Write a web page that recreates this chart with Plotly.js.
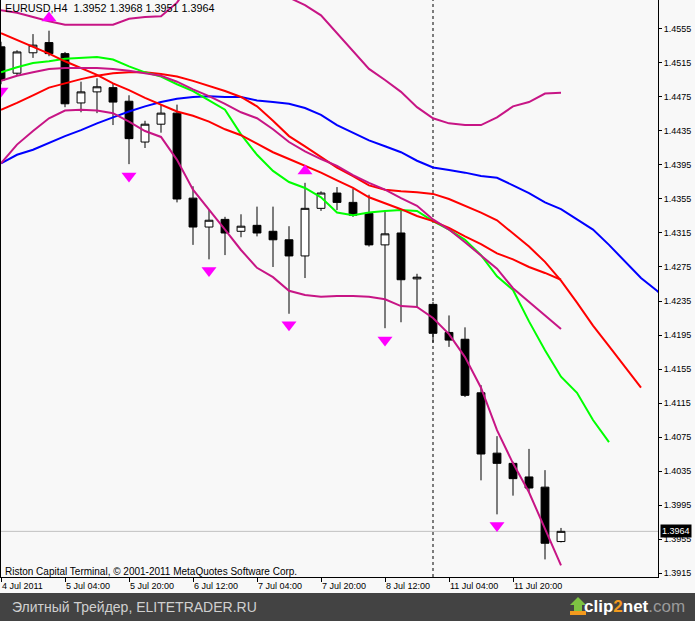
<!DOCTYPE html>
<html>
<head>
<meta charset="utf-8">
<script src="https://cdn.plot.ly/plotly-3.0.1.min.js"></script>
<style>
  html, body { margin: 0; padding: 0; background: #F8F8F8; }
  #chart { width: 695px; height: 621px; }
</style>
</head>
<body>
<div id="chart"></div>
<script>
// ---- Data (EURUSD, H4) ----
const symbol = "EURUSD,H4";
const times = [
  "2011.07.04 12:00","2011.07.04 16:00","2011.07.04 20:00","2011.07.05 00:00","2011.07.05 04:00","2011.07.05 08:00",
  "2011.07.05 12:00","2011.07.05 16:00","2011.07.05 20:00","2011.07.06 00:00","2011.07.06 04:00","2011.07.06 08:00",
  "2011.07.06 12:00","2011.07.06 16:00","2011.07.06 20:00","2011.07.07 00:00","2011.07.07 04:00","2011.07.07 08:00",
  "2011.07.07 12:00","2011.07.07 16:00","2011.07.07 20:00","2011.07.08 00:00","2011.07.08 04:00","2011.07.08 08:00",
  "2011.07.08 12:00","2011.07.08 16:00","2011.07.08 20:00","2011.07.11 00:00","2011.07.11 04:00","2011.07.11 08:00",
  "2011.07.11 12:00","2011.07.11 16:00","2011.07.11 20:00","2011.07.12 00:00","2011.07.12 04:00","2011.07.12 08:00"
];
const opens  = [1.4534,1.4503,1.4527,1.4539,1.4526,1.4468,1.4481,1.4486,1.4470,1.4422,1.4443,1.4456,1.4356,1.4322,1.4331,1.4317,1.4324,1.4317,1.4307,1.4288,1.4344,1.4362,1.4351,1.4338,1.4301,1.4315,1.4261,1.4231,1.4198,1.4190,1.4127,1.4056,1.4044,1.4028,1.4016,1.3952];
const highs  = [1.4540,1.4530,1.4549,1.4553,1.4528,1.4493,1.4497,1.4491,1.4477,1.4447,1.4466,1.4466,1.4370,1.4342,1.4334,1.4337,1.4346,1.4346,1.4323,1.4374,1.4364,1.4369,1.4367,1.4360,1.4342,1.4342,1.4267,1.4234,1.4218,1.4204,1.4136,1.4076,1.4046,1.4061,1.4036,1.3968];
const lows   = [1.4490,1.4500,1.4521,1.4523,1.4463,1.4457,1.4456,1.4442,1.4396,1.4415,1.4433,1.4351,1.4301,1.4284,1.4289,1.4310,1.4311,1.4275,1.4220,1.4262,1.4341,1.4342,1.4334,1.4299,1.4203,1.4210,1.4228,1.4186,1.4181,1.4122,1.4024,1.3984,1.4006,1.4010,1.3931,1.3951];
const closes = [1.4495,1.4528,1.4536,1.4526,1.4467,1.4481,1.4487,1.4469,1.4426,1.4443,1.4456,1.4355,1.4322,1.4330,1.4315,1.4323,1.4315,1.4307,1.4288,1.4344,1.4362,1.4351,1.4336,1.4301,1.4314,1.4260,1.4263,1.4197,1.4189,1.4124,1.4055,1.4044,1.4026,1.4015,1.3950,1.3964];

// Bollinger-style bands (magenta)
const bandUpper  = [1.4577,1.4574,1.4569,1.4564,1.4560,1.4560,1.4560,1.4560,1.4567,1.4569,1.4570,1.4586,1.4613,1.4634,1.4642,1.4639,1.4627,1.4608,1.4592,1.4583,1.4571,1.4550,1.4530,1.4508,1.4495,1.4481,1.4463,1.4450,1.4444,1.4442,1.4442,1.4451,1.4464,1.4469,1.4479,1.4480];
const bandMiddle = [1.4494,1.4500,1.4504,1.4508,1.4509,1.4509,1.4509,1.4508,1.4506,1.4503,1.4500,1.4493,1.4484,1.4476,1.4467,1.4457,1.4450,1.4437,1.4422,1.4411,1.4402,1.4394,1.4383,1.4374,1.4366,1.4356,1.4347,1.4331,1.4319,1.4304,1.4288,1.4273,1.4250,1.4234,1.4219,1.4202];
const bandLower  = [1.4397,1.4419,1.4435,1.4450,1.4459,1.4460,1.4459,1.4456,1.4446,1.4435,1.4428,1.4401,1.4366,1.4343,1.4319,1.4295,1.4274,1.4263,1.4247,1.4242,1.4240,1.4241,1.4241,1.4240,1.4237,1.4229,1.4228,1.4215,1.4196,1.4169,1.4133,1.4083,1.4044,1.4010,1.3966,1.3924];
// Red moving average
const maRed = [1.4550,1.4542,1.4534,1.4526,1.4517,1.4509,1.4501,1.4491,1.4483,1.4474,1.4466,1.4458,1.4453,1.4446,1.4437,1.4430,1.4420,1.4410,1.4402,1.4394,1.4386,1.4377,1.4368,1.4357,1.4350,1.4343,1.4335,1.4329,1.4321,1.4311,1.4302,1.4291,1.4284,1.4275,1.4268,1.4260];
// Alligator (shifted forward)
const jaw   = [1.4397,1.4407,1.4413,1.4421,1.4429,1.4436,1.4444,1.4451,1.4458,1.4464,1.4469,1.4473,1.4475,1.4476,1.4475,1.4475,1.4471,1.4469,1.4467,1.4462,1.4454,1.4442,1.4433,1.4424,1.4417,1.4410,1.4400,1.4392,1.4389,1.4386,1.4382,1.4380,1.4371,1.4362,1.4351,1.4343,1.4331,1.4319,1.4301,1.4281,1.4262,1.4247,1.4230,1.4215];
const teeth = [1.4460,1.4468,1.4477,1.4486,1.4491,1.4496,1.4500,1.4503,1.4504,1.4504,1.4502,1.4499,1.4494,1.4488,1.4482,1.4475,1.4464,1.4447,1.4429,1.4417,1.4404,1.4392,1.4382,1.4371,1.4366,1.4364,1.4363,1.4361,1.4355,1.4347,1.4339,1.4330,1.4315,1.4299,1.4281,1.4259,1.4233,1.4206,1.4182,1.4157,1.4133];
const lips  = [1.4504,1.4510,1.4515,1.4517,1.4520,1.4521,1.4522,1.4519,1.4511,1.4504,1.4499,1.4490,1.4482,1.4471,1.4460,1.4431,1.4407,1.4388,1.4375,1.4368,1.4357,1.4339,1.4336,1.4339,1.4341,1.4342,1.4341,1.4329,1.4319,1.4307,1.4289,1.4264,1.4248,1.4211,1.4177,1.4146,1.4127,1.4095,1.4069];
// Fractals
const fractalUpBars = [3, 19];
const fractalUpPrices = [1.4568, 1.4388];
const fractalDownBars = [0, 8, 13, 18, 24, 31];
const fractalDownPrices = [1.4482, 1.4382, 1.4271, 1.4207, 1.4189, 1.3971];
// Axis
const priceTicks = [1.3915,1.3955,1.3995,1.4035,1.4075,1.4115,1.4155,1.4195,1.4235,1.4275,1.4315,1.4355,1.4395,1.4435,1.4475,1.4515,1.4555];
const labelEvery = 4;
const copyright = "Riston Capital Terminal, © 2001-2011 MetaQuotes Software Corp.";
const bannerText = "Элитный Трейдер, ELITETRADER.RU";

// ---- Build ----
const months = {"07":"Jul"};
function fmtTime(t, first) {
  const [d, hm] = t.split(" ");
  const [y, m, day] = d.split(".");
  const dd = String(parseInt(day, 10));
  return first ? dd + " " + months[m] + " " + y : dd + " " + months[m] + " " + hm;
}
const idx = a => a.map((_, i) => i);
const tickVals = [], tickText = [];
times.forEach((t, i) => { if (i % labelEvery === 0) { tickVals.push(i); tickText.push(fmtTime(t, i === 0)); } });
const weekStart = times.findIndex((t, i) => i > 0 && parseInt(t.slice(8,10),10) - parseInt(times[i-1].slice(8,10),10) > 1);

const FONT = "Liberation Sans, Arial, sans-serif";
const magentaBand = "#C71585";
const lineW = 2;
const last = closes.length - 1;

const traces = [
  {
    type: "candlestick", x: idx(closes), open: opens, high: highs, low: lows, close: closes,
    increasing: { line: { color: "#000000", width: 1 }, fillcolor: "#FFFFFF" },
    decreasing: { line: { color: "#000000", width: 1 }, fillcolor: "#000000" },
    whiskerwidth: 0, hoverinfo: "skip"
  },
  { type: "scatter", mode: "lines", x: idx(jaw), y: jaw, line: { color: "#0000FF", width: lineW } },
  { type: "scatter", mode: "lines", x: idx(teeth), y: teeth, line: { color: "#FF0000", width: lineW } },
  { type: "scatter", mode: "lines", x: idx(lips), y: lips, line: { color: "#00FF00", width: lineW } },
  { type: "scatter", mode: "lines", x: idx(maRed), y: maRed, line: { color: "#FF0000", width: lineW } },
  { type: "scatter", mode: "lines", x: idx(bandUpper), y: bandUpper, line: { color: magentaBand, width: lineW } },
  { type: "scatter", mode: "lines", x: idx(bandMiddle), y: bandMiddle, line: { color: magentaBand, width: lineW } },
  { type: "scatter", mode: "lines", x: idx(bandLower), y: bandLower, line: { color: magentaBand, width: lineW } },
  { type: "scatter", mode: "markers", x: fractalUpBars, y: fractalUpPrices,
    marker: { symbol: "triangle-up", size: 13, color: "#FF00FF", line: { width: 0 } }, cliponaxis: true },
  { type: "scatter", mode: "markers", x: fractalDownBars, y: fractalDownPrices,
    marker: { symbol: "triangle-down", size: 13, color: "#FF00FF", line: { width: 0 } }, cliponaxis: true }
];

const W = 657; // plot width px
const H = 577; // plot height px
const px = v => (v - 1) / W;
const py = v => (H - v) / H;

const layout = {
  width: 695, height: 621,
  margin: { l: 1, r: 37, t: 0, b: 44, pad: 0 },
  paper_bgcolor: "#F8F8F8", plot_bgcolor: "#F8F8F8",
  showlegend: false, hovermode: false,
  font: { family: FONT, size: 9, color: "#000000" },
  xaxis: {
    range: [0, W / 16], showgrid: false, zeroline: false,
    showline: true, linecolor: "#000000", linewidth: 1,
    ticks: "outside", ticklen: 4, tickcolor: "#000000", tickwidth: 1,
    tickvals: tickVals, ticktext: tickText, ticklabelposition: "outside right",
    tickfont: { family: FONT, size: 9, color: "#000000" },
    rangeslider: { visible: false }, fixedrange: true
  },
  yaxis: {
    range: [1.39103, 1.45891], side: "right", showgrid: false, zeroline: false,
    showline: true, mirror: true, linecolor: "#000000", linewidth: 1,
    ticks: "outside", ticklen: 3, tickcolor: "#000000", tickwidth: 1,
    tickvals: priceTicks, tickformat: ".4f",
    tickfont: { family: FONT, size: 9, color: "#000000" }, fixedrange: true
  },
  shapes: [
    { type: "line", xref: "paper", yref: "y", x0: 0, x1: 1, y0: closes[last], y1: closes[last],
      line: { color: "#C0C0C0", width: 1 }, layer: "below" },
    { type: "line", xref: "x", yref: "paper", x0: weekStart, x1: weekStart, y0: 0, y1: 1,
      line: { color: "#000000", width: 1, dash: "3px,3px" }, layer: "below" },
    { type: "rect", xref: "paper", yref: "paper", x0: -0.01, x1: 1.07, y0: py(593), y1: py(622),
      fillcolor: "#434343", line: { width: 0 }, layer: "above" },
    { type: "path", xref: "paper", yref: "paper",
      path: `M ${px(578)},${py(597)} L ${px(586)},${py(605)} L ${px(582)},${py(605)} L ${px(582)},${py(611)} L ${px(574)},${py(611)} L ${px(574)},${py(605)} L ${px(570)},${py(605)} Z`,
      fillcolor: "#7DC242", line: { width: 0 }, layer: "above" },
    { type: "rect", xref: "paper", yref: "paper", x0: px(570), x1: px(586), y0: py(611), y1: py(615),
      fillcolor: "#F39A1E", line: { width: 0 }, layer: "above" }
  ],
  annotations: [
    { xref: "paper", yref: "paper", x: px(3), y: 1, xanchor: "left", yanchor: "top", yshift: 0,
      text: symbol + "  " + opens[last].toFixed(4) + " " + highs[last].toFixed(4) + " " + lows[last].toFixed(4) + " " + closes[last].toFixed(4),
      showarrow: false, font: { family: FONT, size: 10.8, color: "#000000" } },
    { xref: "paper", yref: "paper", x: px(3), y: py(571), xanchor: "left", yanchor: "middle",
      text: copyright, showarrow: false, font: { family: FONT, size: 10, color: "#000000" } },
    { xref: "paper", yref: "y", x: 1, y: closes[last], xanchor: "left", yanchor: "middle", xshift: 2,
      text: closes[last].toFixed(4), showarrow: false, bgcolor: "#000000", borderpad: 1,
      font: { family: FONT, size: 9, color: "#FFFFFF" } },
    { xref: "paper", yref: "paper", x: px(10), y: py(607), xanchor: "left", yanchor: "middle",
      text: bannerText, showarrow: false, font: { family: FONT, size: 14, color: "#D0D0D0" } },
    { xref: "paper", yref: "paper", x: px(687), y: py(606), xanchor: "right", yanchor: "middle",
      text: "<b>clip<span style='color:#F39A1E'>2</span>net</b><span style='color:#9A9A9A'>.com</span>",
      showarrow: false, font: { family: FONT, size: 17, color: "#FFFFFF" } }
  ]
};

Plotly.newPlot("chart", traces, layout, { staticPlot: true, displayModeBar: false });
</script>
</body>
</html>
